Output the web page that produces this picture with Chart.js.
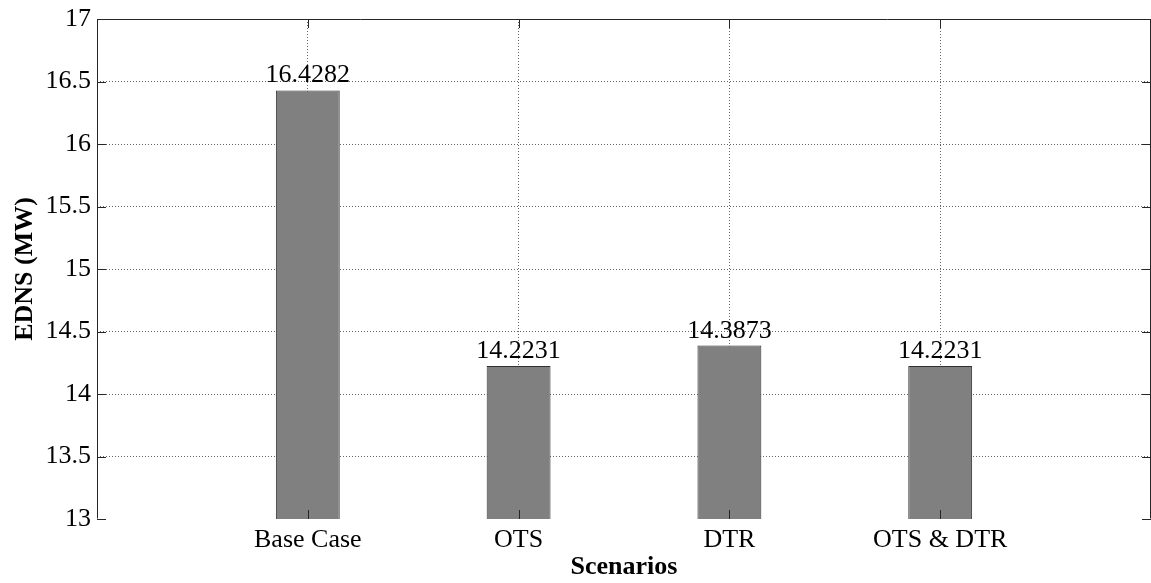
<!DOCTYPE html>
<html>
<head>
<meta charset="utf-8">
<script src="https://cdn.jsdelivr.net/npm/chart.js@4/dist/chart.umd.min.js"></script>
<style>
html,body{margin:0;padding:0;background:#fff;}
#wrap{width:1151px;height:583px;position:relative;}
</style>
</head>
<body>
<div id="wrap"><canvas id="c"></canvas></div>
<script>
const categories = ['Base Case', 'OTS', 'DTR', 'OTS & DTR'];
const edns = [16.4282, 14.2231, 14.3873, 14.2231];
const valueLabels = ['16.4282', '14.2231', '14.3873', '14.2231'];
const yMin = 13, yMax = 17, yStep = 0.5;

const labels = [''].concat(categories, ['']);
const data = [null].concat(edns, [null]);
const dataLabelText = [null].concat(valueLabels, [null]);

const FONT = '"Liberation Serif", "Times New Roman", serif';
const AXIS = '#262626';

const boxPlugin = {
  id: 'box',
  afterDatasetsDraw(chart) {
    const ctx = chart.ctx, a = chart.chartArea;
    const xs = chart.scales.x, ys = chart.scales.y;
    ctx.save();
    const meta = chart.getDatasetMeta(0);
    ctx.fillStyle = '#000';
    ctx.font = '26px ' + FONT;
    ctx.textAlign = 'center';
    ctx.textBaseline = 'alphabetic';
    meta.data.forEach((el, i) => {
      if (dataLabelText[i] == null) return;
      ctx.fillText(dataLabelText[i], el.x, el.y - 8);
    });
    ctx.strokeStyle = AXIS;
    ctx.lineWidth = 1;
    ctx.beginPath();
    ctx.moveTo(a.left + 0.5, a.top + 0.5);
    ctx.lineTo(a.right - 0.5, a.top + 0.5);
    ctx.lineTo(a.right - 0.5, a.bottom - 0.5);
    ctx.moveTo(a.left + 0.5, a.bottom - 0.5);
    ctx.lineTo(a.left + 0.5, a.top + 0.5);
    ctx.stroke();
    const T = 9;
    ctx.beginPath();
    ys.ticks.forEach(t => {
      const y = Math.round(ys.getPixelForValue(t.value)) + 0.5;
      ctx.moveTo(a.left, y); ctx.lineTo(a.left + T, y);
      ctx.moveTo(a.right, y); ctx.lineTo(a.right - T, y);
    });
    for (let i = 1; i <= categories.length; i++) {
      const x = Math.round(xs.getPixelForValue(i)) + 0.5;
      ctx.moveTo(x, a.bottom); ctx.lineTo(x, a.bottom - T);
      ctx.moveTo(x, a.top); ctx.lineTo(x, a.top + T);
    }
    ctx.stroke();
    ctx.restore();
  }
};

function build() {
  Chart.defaults.font.family = FONT;
  new Chart(document.getElementById('c'), {
    type: 'bar',
    data: {
      labels: labels,
      datasets: [{
        data: data,
        backgroundColor: '#808080',
        borderColor: '#303030',
        borderWidth: 1,
        borderSkipped: false,
        barPercentage: 0.303,
        categoryPercentage: 1.0
      }]
    },
    options: {
      responsive: true,
      maintainAspectRatio: false,
      animation: false,
      events: [],
      layout: { padding: { left: 0, right: 0, top: 19, bottom: 0 } },
      plugins: { legend: { display: false }, tooltip: { enabled: false } },
      scales: {
        x: {
          type: 'category',
          offset: false,
          grid: {
            offset: false,
            drawTicks: false,
            color: ctx => (ctx.index === 0 || ctx.index === labels.length - 1) ? 'rgba(0,0,0,0)' : '#666'
          },
          border: { display: false, dash: [1, 2] },
          ticks: { color: '#000', font: { family: FONT, size: 26 }, padding: 6, maxRotation: 0, autoSkip: false },
          title: { display: true, text: 'Scenarios', color: '#000', font: { family: FONT, size: 26, weight: 'bold' }, padding: { top: -6, bottom: 0 } },
          afterFit(s) { s.height = 64; s.paddingLeft = 0; s.paddingRight = 0; }
        },
        y: {
          min: yMin, max: yMax,
          grid: {
            drawTicks: false,
            color: ctx => (ctx.tick && (ctx.tick.value === yMin || ctx.tick.value === yMax)) ? 'rgba(0,0,0,0)' : '#666'
          },
          border: { display: false, dash: [1, 2] },
          ticks: { stepSize: yStep, color: '#000', font: { family: FONT, size: 26 }, padding: 6,
                   callback: v => String(Math.round(v * 10) / 10) },
          title: { display: true, text: 'EDNS (MW)', color: '#000', font: { family: FONT, size: 26, weight: 'bold' }, padding: { top: 10, bottom: 0 } },
          afterFit(s) { s.width = 97; s.paddingTop = 0; s.paddingBottom = 0; }
        }
      }
    },
    plugins: [boxPlugin]
  });
}

if (document.fonts && document.fonts.load) {
  Promise.all([
    document.fonts.load('26px "Liberation Serif"'),
    document.fonts.load('bold 26px "Liberation Serif"')
  ]).then(build, build);
} else { build(); }
</script>
</body>
</html>
